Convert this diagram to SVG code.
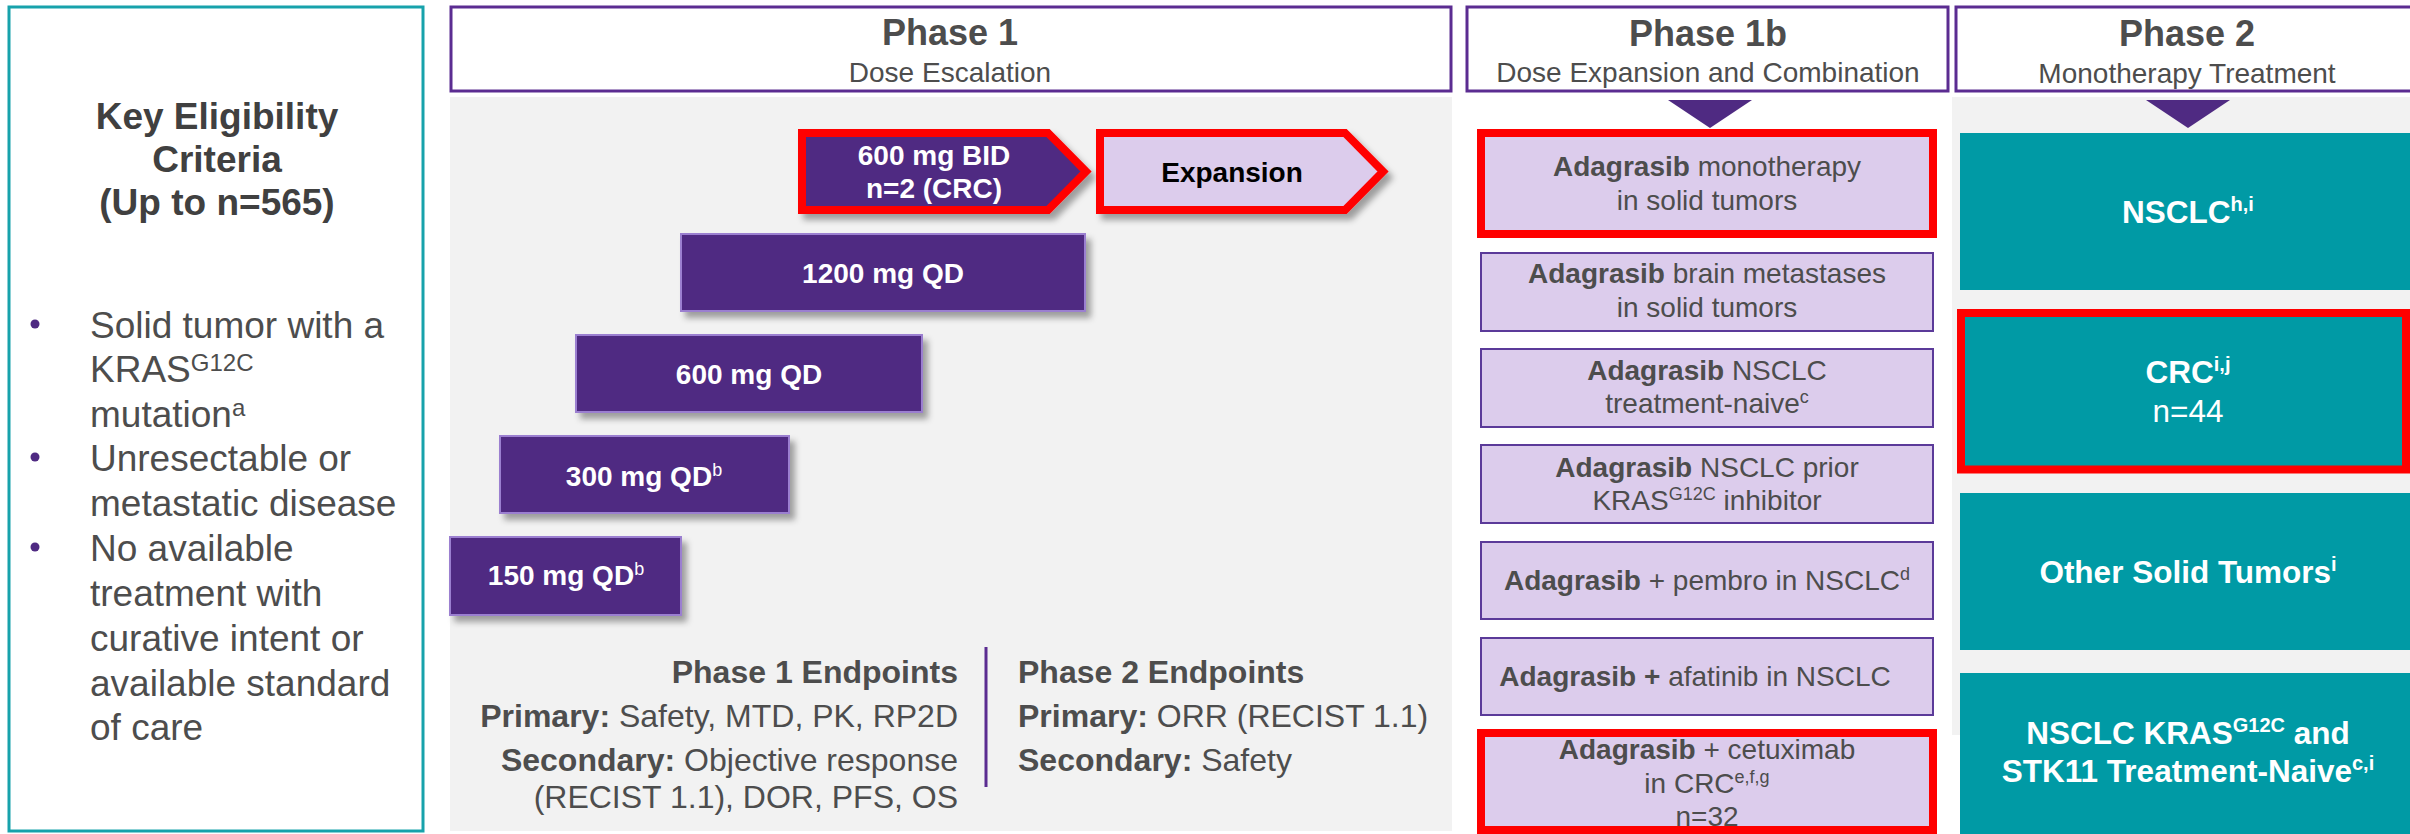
<svg xmlns="http://www.w3.org/2000/svg" width="2410" height="834" viewBox="0 0 2410 834">
<defs>
<style>
text{font-family:"Liberation Sans",Arial,Helvetica,sans-serif;}
.g{fill:#4D4D4D}
.b{font-weight:bold}
.hdr{fill:#fff;stroke:#5B2C91;stroke-width:3}
.ht{font-size:36px;font-weight:bold;fill:#4D4D4D;text-anchor:middle}
.hs{font-size:28px;fill:#4D4D4D;text-anchor:middle}
.dose{fill:#4F2A82;stroke:#9B7FD0;stroke-width:2;filter:url(#sh)}
.dt{fill:#fff;font-weight:bold;font-size:28px;text-anchor:middle}
.p1b{fill:#DCCCEC;stroke:#5B3A99;stroke-width:2}
.red{stroke:#FF0000;stroke-width:8;stroke-linejoin:miter}
.teal{fill:#009AA5}
.tt{fill:#fff;font-weight:bold;font-size:31.5px;text-anchor:middle}
.tn{font-weight:normal}
.bt{font-size:28px;text-anchor:middle;fill:#4D4D4D}
.ep{font-size:32px;fill:#4D4D4D}
.lt{font-size:37px;fill:#4D4D4D}
</style>
<filter id="sh" x="-10%" y="-20%" width="130%" height="160%">
<feDropShadow dx="5" dy="6" stdDeviation="3" flood-color="#000" flood-opacity="0.35"/>
</filter>
</defs>
<rect x="0" y="0" width="2410" height="834" fill="#fff"/>

<!-- backgrounds -->
<rect x="450" y="97" width="1002" height="734" fill="#F2F2F2"/>
<rect x="1952" y="97" width="470" height="638" fill="#F2F2F2"/>

<!-- Eligibility -->
<g id="eligibility">
<rect x="9" y="7" width="414" height="824" fill="#fff" stroke="#17A2AB" stroke-width="3"/>
<text x="217" y="129" class="b" font-size="37" fill="#404040" text-anchor="middle">Key Eligibility</text>
<text x="217" y="172" class="b" font-size="37" fill="#404040" text-anchor="middle">Criteria</text>
<text x="217" y="215" class="b" font-size="37" fill="#404040" text-anchor="middle">(Up to n=565)</text>
<circle cx="35" cy="324" r="4.5" fill="#4F2A82"/>
<circle cx="35" cy="457" r="4.5" fill="#4F2A82"/>
<circle cx="35" cy="547" r="4.5" fill="#4F2A82"/>
<text x="90" y="338" class="lt">Solid tumor with a</text>
<text x="90" y="382" class="lt">KRAS<tspan font-size="24" dy="-11">G12C</tspan></text>
<text x="90" y="427" class="lt">mutation<tspan font-size="24" dy="-11">a</tspan></text>
<text x="90" y="471" class="lt">Unresectable or</text>
<text x="90" y="516" class="lt">metastatic disease</text>
<text x="90" y="561" class="lt">No available</text>
<text x="90" y="606" class="lt">treatment with</text>
<text x="90" y="651" class="lt">curative intent or</text>
<text x="90" y="696" class="lt">available standard</text>
<text x="90" y="740" class="lt">of care</text>
</g>

<!-- Headers -->
<g id="phase1-header">
<rect class="hdr" x="451" y="7" width="1000" height="84"/>
<text class="ht" x="950" y="45">Phase 1</text>
<text class="hs" x="950" y="82">Dose Escalation</text>
</g>
<g id="phase1b-header">
<rect class="hdr" x="1467" y="7" width="481" height="84"/>
<text class="ht" x="1708" y="46">Phase 1b</text>
<text class="hs" x="1708" y="82">Dose Expansion and Combination</text>
</g>
<g id="phase2-header">
<rect class="hdr" x="1956" y="7" width="470" height="84"/>
<text class="ht" x="2187" y="46">Phase 2</text>
<text class="hs" x="2187" y="83">Monotherapy Treatment</text>
</g>

<!-- Phase 1 doses -->
<g id="dose-600bid">
<path class="red" d="M802,133 H1048 L1086,171.5 L1048,210 H802 Z" fill="#4F2A82" filter="url(#sh)"/>
<text class="dt" x="934" y="165">600 mg BID</text>
<text class="dt" x="934" y="198">n=2 (CRC)</text>
</g>
<g id="expansion">
<path class="red" d="M1100,133 H1345 L1383,171.5 L1345,210 H1100 Z" fill="#DCCCEC" filter="url(#sh)"/>
<text x="1232" y="182" font-size="28" font-weight="bold" fill="#000" text-anchor="middle">Expansion</text>
</g>
<g id="dose-1200qd">
<rect class="dose" x="681" y="234" width="404" height="77"/>
<text class="dt" x="883" y="283">1200 mg QD</text>
</g>
<g id="dose-600qd">
<rect class="dose" x="576" y="335" width="346" height="77"/>
<text class="dt" x="749" y="384">600 mg QD</text>
</g>
<g id="dose-300qd">
<rect class="dose" x="500" y="436" width="289" height="77"/>
<text class="dt" x="644" y="486">300 mg QD<tspan font-size="18" font-weight="normal" dy="-10">b</tspan></text>
</g>
<g id="dose-150qd">
<rect class="dose" x="450" y="537" width="231" height="78"/>
<text class="dt" x="566" y="585">150 mg QD<tspan font-size="18" font-weight="normal" dy="-10">b</tspan></text>
</g>

<!-- Endpoints -->
<g id="endpoints">
<text class="ep b" x="958" y="683" text-anchor="end">Phase 1 Endpoints</text>
<text class="ep" x="958" y="727" text-anchor="end"><tspan class="b">Primary:</tspan> Safety, MTD, PK, RP2D</text>
<text class="ep" x="958" y="771" text-anchor="end"><tspan class="b">Secondary:</tspan> Objective response</text>
<text class="ep" x="958" y="808" text-anchor="end">(RECIST 1.1), DOR, PFS, OS</text>
<line x1="986" y1="647" x2="986" y2="787" stroke="#5B2C91" stroke-width="3"/>
<text class="ep b" x="1018" y="683">Phase 2 Endpoints</text>
<text class="ep" x="1018" y="727"><tspan class="b">Primary:</tspan> ORR (RECIST 1.1)</text>
<text class="ep" x="1018" y="771"><tspan class="b">Secondary:</tspan> Safety</text>
</g>

<!-- connectors -->
<g id="connectors">
<polygon points="1668,100 1752,100 1710,128" fill="#4F2A82"/>
<polygon points="2146,100 2230,100 2188,128" fill="#4F2A82"/>
</g>

<!-- Phase 1b -->
<g id="p1b-mono">
<rect class="red" x="1481" y="133" width="452" height="101" fill="#DCCCEC"/>
<text class="bt" x="1707" y="176"><tspan class="b">Adagrasib</tspan> monotherapy</text>
<text class="bt" x="1707" y="210">in solid tumors</text>
</g>
<g id="p1b-brain">
<rect class="p1b" x="1481" y="253" width="452" height="78"/>
<text class="bt" x="1707" y="283"><tspan class="b">Adagrasib</tspan> brain metastases</text>
<text class="bt" x="1707" y="317">in solid tumors</text>
</g>
<g id="p1b-naive">
<rect class="p1b" x="1481" y="349" width="452" height="78"/>
<text class="bt" x="1707" y="380"><tspan class="b">Adagrasib</tspan> NSCLC</text>
<text class="bt" x="1707" y="413">treatment-naive<tspan font-size="18" dy="-10">c</tspan></text>
</g>
<g id="p1b-prior">
<rect class="p1b" x="1481" y="445" width="452" height="78"/>
<text class="bt" x="1707" y="477"><tspan class="b">Adagrasib</tspan> NSCLC prior</text>
<text class="bt" x="1707" y="510">KRAS<tspan font-size="18" dy="-10">G12C</tspan><tspan dy="10"> inhibitor</tspan></text>
</g>
<g id="p1b-pembro">
<rect class="p1b" x="1481" y="542" width="452" height="77"/>
<text class="bt" x="1707" y="590"><tspan class="b">Adagrasib</tspan> + pembro in NSCLC<tspan font-size="18" dy="-10">d</tspan></text>
</g>
<g id="p1b-afatinib">
<rect class="p1b" x="1481" y="638" width="452" height="77"/>
<text class="bt" x="1695" y="686"><tspan class="b">Adagrasib +</tspan> afatinib in NSCLC</text>
</g>
<g id="p1b-cetuximab">
<rect class="red" x="1481" y="733" width="452" height="97" fill="#DCCCEC"/>
<text class="bt" x="1707" y="759"><tspan class="b">Adagrasib</tspan> + cetuximab</text>
<text class="bt" x="1707" y="793">in CRC<tspan font-size="18" dy="-10">e,f,g</tspan></text>
<text class="bt" x="1707" y="826">n=32</text>
</g>

<!-- Phase 2 -->
<g id="p2-nsclc">
<rect class="teal" x="1960" y="133" width="460" height="157"/>
<text class="tt" x="2188" y="223">NSCLC<tspan font-size="20" dy="-12">h,i</tspan></text>
</g>
<g id="p2-crc">
<rect class="teal red" x="1961" y="313" width="445" height="156.5"/>
<text class="tt" x="2188" y="383">CRC<tspan font-size="20" dy="-12">i,j</tspan></text>
<text class="tt tn" x="2188" y="422">n=44</text>
</g>
<g id="p2-other">
<rect class="teal" x="1960" y="493" width="460" height="157"/>
<text class="tt" x="2188" y="583">Other Solid Tumors<tspan font-size="20" dy="-12">i</tspan></text>
</g>
<g id="p2-stk11">
<rect class="teal" x="1960" y="673" width="460" height="170"/>
<text class="tt" x="2188" y="744">NSCLC KRAS<tspan font-size="20" dy="-12">G12C</tspan><tspan dy="12"> and</tspan></text>
<text class="tt" x="2188" y="782">STK11 Treatment-Naive<tspan font-size="20" dy="-12">c,i</tspan></text>
</g>
</svg>
